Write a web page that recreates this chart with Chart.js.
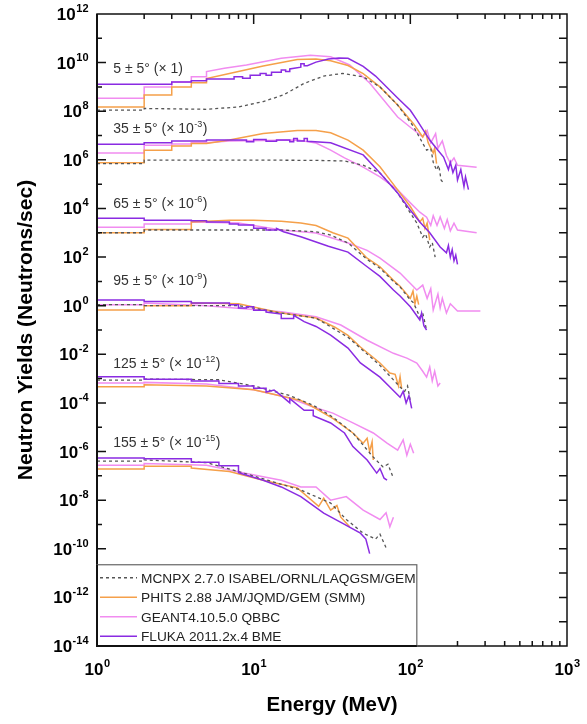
<!DOCTYPE html>
<html>
<head>
  <title>Neutron Yields vs Energy</title>
  <script src="https://cdn.jsdelivr.net/npm/chart.js"></script>
  <style>
    body { margin: 0; background: #fff; }
    #box { width: 587px; height: 724px; }
  </style>
</head>
<body>
  <div id="box"><canvas id="yieldChart" width="587" height="724"></canvas></div>

  <script>
    // ---- data (values as plotted, already multiplied by the angle factor) ----
    const codeNames = [
      'MCNPX 2.7.0 ISABEL/ORNL/LAQGSM/GEM',
      'PHITS 2.88 JAM/JQMD/GEM (SMM)',
      'GEANT4.10.5.0 QBBC',
      'FLUKA 2011.2x.4 BME'
    ];
    const angleNames = ['5 ± 5°', '35 ± 5°', '65 ± 5°', '95 ± 5°', '125 ± 5°', '155 ± 5°'];
    const angleExps = [0, -3, -6, -9, -12, -15];
    const yTickExps = [12, 10, 8, 6, 4, 2, 0, -2, -4, -6, -8, -10, -12, -14];
    const xTickExps = [0, 1, 2, 3];

    // 5 deg (x 1)
    const mcnpx5 = [[1,1.1e8],[2,1.1e8],[2,1.3e8],[5,1.2e8],[8,1.5e8],[11.5,2.5e8],[15.5,4.7e8],[21,1.4e9],[28,2.8e9],[37,3.6e9],[50,2.6e9],[64,1e9],[83,1.8e8],[105,2.3e7],[127,2.5e6],[135,3e6],[140,8e5],[147,3.8e5],[152,6e5],[157,1.5e5],[163,1.1e5]];
    const phits5 = [[1,1.5e8],[2,1.5e8],[2,4.7e8],[3,4.7e8],[3,1.0e9],[4,1.0e9],[4,1.5e9],[5,1.5e9],[5,2.2e9],[7,3.6e9],[11.5,7.2e9],[19,1.35e10],[25,1.4e10],[31,1.2e10],[40,7.6e9],[50,3.5e9],[64,1e9],[83,1.8e8],[105,3e7],[120,8.7e6],[125,1.5e7],[130,5e6],[140,1.9e6],[143,3e6],[147,7e5]];
    const geant5 = [[1,3.4e8],[2,3.4e8],[2,1.0e9],[3,1.0e9],[3,1.6e9],[4,1.6e9],[4,2.6e9],[5,2.6e9],[5,4.3e9],[6.5,5.9e9],[9,8e9],[15,1.5e10],[23,2.0e10],[31,1.75e10],[41,8e9],[55,1.45e9],[83,5.8e7],[100,2.2e7],[120,8.7e6],[128,1.6e7],[135,5e6],[145,1.2e7],[150,3e6],[160,6e6],[170,1.5e6],[180,7.4e5],[190,1.2e6],[200,6e5],[265,5e5]];
    const fluka5 = [[1,1.3e9],[3,1.3e9],[3,1.6e9],[4,1.6e9],[4,1.8e9],[5,1.8e9],[5,2.1e9],[7.5,2.1e9],[7.5,2.6e9],[8.5,2.6e9],[8.5,2.3e9],[9.5,2.3e9],[9.5,3.0e9],[11,3.0e9],[11,3.6e9],[12,3.6e9],[12,3.0e9],[13,3.0e9],[13,4.0e9],[15,4.0e9],[15,5.0e9],[16,5.0e9],[16,4.3e9],[17,4.3e9],[17,5.5e9],[20,6.5e9],[20,9e9],[21,9e9],[21,7.5e9],[22,7.5e9],[25,1.05e10],[30,1.4e10],[35,1.55e10],[40,1.5e10],[50,7e9],[60,2.8e9],[83,3.5e8],[100,1.1e8],[110,4.4e7],[133,6.5e6],[150,2.5e6],[163,1.3e6],[175,4e5],[180,8e5],[187,3e5],[195,6e5],[200,1.5e5],[210,4e5],[220,8e4],[225,2e5],[235,6e4]];

    // 35 deg (x 1e-3)
    const mcnpx35 = [[1,7e5],[2,7e5],[2,9.8e5],[10,9.8e5],[25,9.5e5],[38,9e5],[50,6e5],[64,2.9e5],[83,4.3e4],[100,6.5e3],[110,2.5e3],[120,6.6e2],[125,9e2],[133,2.6e2],[138,4e2],[144,1e2]];
    const phits35 = [[1,7.6e5],[2,7.6e5],[2,2.5e6],[3,2.5e6],[3,3.7e6],[4,3.7e6],[4,4.7e6],[5,4.7e6],[7,6.5e6],[11.5,1.2e7],[19,1.6e7],[25,1.6e7],[31,1.3e7],[40,6.5e6],[50,2.5e6],[64,5.2e5],[83,5.8e4],[100,1.2e4],[115,2.8e3],[120,4e3],[124,1.5e3],[128,2.5e3],[133,5e2]];
    const geant35 = [[1,1.9e6],[2,1.9e6],[2,4e6],[3,4e6],[3,4.5e6],[4,4.5e6],[4,5e6],[5,5e6],[7,6e6],[19,6.5e6],[25,4.9e6],[31,2.5e6],[38,1.2e6],[50,5e5],[64,2e5],[83,5.8e4],[100,1.7e4],[115,7e3],[127,4.4e3],[135,2e3],[140,5e3],[148,2e3],[155,4.5e3],[165,1.5e3],[172,3.5e3],[180,1.2e3],[190,2.5e3],[200,1.3e3],[265,1e3]];
    const fluka35 = [[1,4.4e6],[2,4.4e6],[2,5e6],[3,5e6],[3,5.9e6],[5,5.9e6],[5,6.5e6],[9,6.5e6],[9,5.5e6],[10,5.5e6],[10,6.8e6],[12,6.8e6],[12,5.8e6],[14,5.8e6],[14,6.5e6],[17,6.5e6],[17,5.5e6],[18,5.5e6],[18,7.5e6],[19,7.5e6],[19,6e6],[21,6e6],[21,7.5e6],[22,7.5e6],[22,5.8e6],[31,5e6],[50,1.6e6],[64,2.9e5],[83,4.3e4],[100,8.5e3],[115,2.8e3],[133,1e3],[155,2.6e2],[170,1.5e2],[175,3e2],[180,1e2],[185,2e2],[190,7e1],[195,1.2e2],[200,5e1]];

    // 65 deg (x 1e-6)
    const mcnpx65 = [[1,1e3],[2,1e3],[2,1.3e3],[15,1.3e3],[25,1.1e3],[31,8e2],[40,3.8e2],[53,80],[64,35],[78,10],[86,5.9],[100,1.7],[105,1.3],[115,0.34],[120,0.5],[127,0.1]];
    const phits65 = [[1,1e3],[2,1e3],[2,1.35e3],[4,1.35e3],[4,2.8e3],[7,3.3e3],[10,3.3e3],[15,3e3],[20,2.5e3],[25,2e3],[32,1e3],[40,6e2],[53,90],[64,40],[78,11],[86,6.3],[100,2],[104,4],[107,1.2],[110,2.5],[113,1.1]];
    const geant65 = [[1,1.7e3],[2,1.7e3],[2,2.3e3],[4,2.3e3],[4,2.75e3],[8,2.5e3],[15,1.3e3],[25,9.8e2],[40,3.8e2],[53,1.9e2],[64,90],[86,22],[110,4.4],[120,7],[128,2],[135,5],[140,0.66],[150,3],[155,0.8],[160,2],[170,0.5],[180,1.2],[200,0.6],[280,0.6]];
    const fluka65 = [[1,4e3],[2,4e3],[2,3.3e3],[4,3.3e3],[4,3.1e3],[5,3.1e3],[5,2.75e3],[7,2.75e3],[7,2.3e3],[8,2.3e3],[8,2.1e3],[10,2.1e3],[10,1.55e3],[12,1.55e3],[12,1.3e3],[14,1.3e3],[14,1.5e3],[15.5,1.1e3],[20,6.9e2],[30,2.8e2],[40,1.6e2],[53,40],[64,16],[78,4.4],[86,2.5],[100,0.9],[115,0.26],[118,0.5],[122,0.15],[127,0.1]];

    // 95 deg (x 1e-9)
    const mcnpx95 = [[1,1.1],[2,1.1],[2,1.0],[8,1.0],[15,0.5],[25,0.31],[40,0.05],[48,0.018],[64,3.5e-3],[86,4.5e-4],[92,3e-4],[96,5e-4],[100,1.2e-4]];
    const phits95 = [[1,0.66],[2,0.66],[2,1.0],[4,1.0],[4,1.3],[8,1.2],[15,0.5],[25,0.31],[33,0.13],[40,0.06],[48,0.02],[64,4.4e-3],[74,1.7e-3],[80,1.5e-3],[84,5e-4],[86,1.2e-3],[88,4e-4]];
    const geant95 = [[1,1.1],[2,1.1],[2,1.3],[5,1.0],[15,0.56],[25,0.35],[36,0.16],[53,0.038],[78,0.011],[95,7e-3],[110,4.4e-3],[120,2e-3],[127,1.15e-3],[133,3e-3],[138,8e-4],[143,2e-3],[150,5e-4],[155,6.6e-4]];
    const fluka95 = [[1,1.7],[2,1.7],[2,1.5],[4,1.5],[4,1.3],[7,1.3],[7,1.1],[8,1.1],[8,0.8],[9,0.8],[9,0.9],[10,0.9],[10,0.65],[12,0.65],[12,0.55],[15,0.45],[15,0.3],[18,0.3],[18,0.4],[21,0.22],[25,0.14],[31,0.062],[40,0.018],[48,4.4e-3],[64,1.15e-3],[74,4.5e-4],[86,1.7e-4],[90,3e-4],[94,1e-4],[98,2e-4],[102,6e-5]];

    // 125 deg (x 1e-12)
    const mcnpx125 = [[1,8.7e-4],[2,8.7e-4],[2,9.5e-4],[6,9e-4],[10,5e-4],[17,2e-4],[24,8e-5],[32,2.6e-5],[43,5.8e-6],[58,5.9e-7],[67,2.3e-7],[72,3e-7],[78,8e-8]];
    const phits125 = [[1,4.6e-4],[2,4.6e-4],[2,5.6e-4],[5,5e-4],[10,3.5e-4],[20,1.26e-4],[24,6.8e-5],[32,2.3e-5],[43,5.8e-6],[50,2.2e-6],[53,3.5e-6],[55,1e-6],[57,2.5e-6],[58,4.5e-7]];
    const geant125 = [[1,6.6e-4],[2,6.6e-4],[2,7e-4],[5,6e-4],[10,3.5e-4],[17,1.6e-4],[24,6.8e-5],[32,3.8e-5],[43,1.5e-5],[58,5.8e-6],[71,2.2e-6],[83,1.15e-6],[90,3e-6],[95,7e-7],[100,2e-6],[105,8.5e-7]];
    const fluka125 = [[1,1.2e-3],[2,1.2e-3],[2,9.5e-4],[4,9.5e-4],[4,8e-4],[6,8e-4],[6,6.3e-4],[8,6.3e-4],[8,5e-4],[10,5e-4],[10,4e-4],[12,4e-4],[12,2.8e-4],[13.5,3.4e-4],[15,2e-4],[17,1e-4],[17,1.5e-4],[21,5e-5],[24,5e-5],[24,3e-5],[31,1.5e-5],[38,5.8e-6],[43,1.6e-6],[53,4.5e-7],[61,1.3e-7],[64,2e-7],[68,8e-8],[71,6.6e-8]];

    // 155 deg (x 1e-15)
    const mcnpx155 = [[1,4e-7],[2,4e-7],[2,4.5e-7],[5,3.5e-7],[8,1.5e-7],[20,2.6e-8],[31,7.6e-9],[39,1.6e-9],[50,4.4e-10],[60,2.5e-10],[64,4e-10],[71,9e-11]];
    const phits155 = [[1,1.9e-7],[2,1.9e-7],[2,2.5e-7],[4,2.5e-7],[4,2.1e-7],[7,1.5e-7],[11.5,6.6e-8],[19,3.2e-8],[26,5.6e-9],[28,1.2e-8],[31,3.9e-9],[34,6e-9],[36,2e-9],[41,8e-10]];
    const geant155 = [[1,2.7e-7],[2,2.7e-7],[2,3.2e-7],[5,2.7e-7],[9,1.26e-7],[15,6.6e-8],[20,3.5e-8],[25,3.5e-8],[31,1e-8],[39,1.4e-8],[50,3.9e-9],[64,1.6e-9],[70,3e-9],[74,8e-10],[78,2e-9]];
    const fluka155 = [[1,5.4e-7],[2,5.4e-7],[2,5e-7],[4,5e-7],[4,3.6e-7],[6,3.6e-7],[6,2.6e-7],[8,2.6e-7],[8,1.35e-7],[11.5,6.6e-8],[15,3.5e-8],[20,1.4e-8],[28,2.9e-9],[37,1.1e-9],[48,4.4e-10],[52,2.5e-10],[55,6.3e-11]];

    const seriesByCode = [
      [mcnpx5, mcnpx35, mcnpx65, mcnpx95, mcnpx125, mcnpx155],
      [phits5, phits35, phits65, phits95, phits125, phits155],
      [geant5, geant35, geant65, geant95, geant125, geant155],
      [fluka5, fluka35, fluka65, fluka95, fluka125, fluka155]
    ];

    // ---- styles ----
    const codeColors = ['#555555', '#f5a04a', '#f18cf0', '#8a2be2'];
    const codeDash = [[3, 3], [], [], []];
    const codeOrder = [2, 3, 4, 1];
    const FONT = '"Liberation Sans", Arial, sans-serif';

    const datasets = [];
    seriesByCode.forEach((group, c) => {
      group.forEach((pts, a) => {
        datasets.push({
          label: codeNames[c] + ' ' + angleNames[a],
          data: pts.map(p => ({ x: p[0], y: p[1] })),
          borderColor: codeColors[c],
          borderDash: codeDash[c],
          borderWidth: c === 0 ? 1.3 : 1.5,
          pointRadius: 0,
          tension: 0,
          fill: false,
          order: codeOrder[c]
        });
      });
    });

    function drawPow(ctx, exp, x, y, align, baseSize, supSize, rise, weight) {
      const base = '10';
      const sup = String(exp);
      ctx.font = `${weight} ${baseSize}px ${FONT}`;
      const wb = ctx.measureText(base).width;
      ctx.font = `${weight} ${supSize}px ${FONT}`;
      const ws = ctx.measureText(sup).width;
      let left = x;
      if (align === 'right') left = x - wb - ws;
      if (align === 'center') left = x - (wb + ws) / 2;
      ctx.textAlign = 'left';
      ctx.textBaseline = 'alphabetic';
      ctx.font = `${weight} ${baseSize}px ${FONT}`;
      ctx.fillText(base, left, y);
      ctx.font = `${weight} ${supSize}px ${FONT}`;
      ctx.fillText(sup, left + wb + 0.5, y - rise);
      return left + wb + 0.5 + ws;
    }

    const decor = {
      id: 'decor',
      afterDraw(chart) {
        const { ctx, chartArea: a, scales: { x, y } } = chart;
        ctx.save();
        ctx.strokeStyle = '#111';
        ctx.fillStyle = '#111';

        // frame
        ctx.lineWidth = 1.5;
        ctx.strokeRect(a.left, a.top, a.right - a.left, a.bottom - a.top);
        ctx.lineWidth = 2;
        ctx.beginPath();
        ctx.moveTo(a.left, a.top); ctx.lineTo(a.left, a.bottom);
        ctx.stroke();

        // y ticks, inward on both sides
        ctx.lineWidth = 1.5;
        for (let e = -13; e <= 11; e++) {
          const py = y.getPixelForValue(Math.pow(10, e));
          const len = e % 2 === 0 ? 9 : 5;
          ctx.beginPath();
          ctx.moveTo(a.left, py); ctx.lineTo(a.left + len, py);
          ctx.moveTo(a.right, py); ctx.lineTo(a.right - 8, py);
          ctx.stroke();
        }
        // x ticks, inward top and bottom
        for (let d = 1; d <= 100; d *= 10) {
          for (let m = 1; m <= 9; m++) {
            const v = m * d;
            if (v === 1) continue;
            const px = x.getPixelForValue(v);
            const len = m === 1 ? 10 : 5;
            ctx.beginPath();
            ctx.moveTo(px, a.top); ctx.lineTo(px, a.top + len);
            ctx.moveTo(px, a.bottom); ctx.lineTo(px, a.bottom - len);
            ctx.stroke();
          }
        }

        // tick labels
        ctx.fillStyle = '#000';
        yTickExps.forEach(e => {
          const py = y.getPixelForValue(Math.pow(10, e));
          drawPow(ctx, e, a.left - 9, py + 6, 'right', 17, 11, 8, 'bold');
        });
        xTickExps.forEach(e => {
          const px = x.getPixelForValue(Math.pow(10, e));
          drawPow(ctx, e, px, a.bottom + 29, 'center', 17, 11, 8, 'bold');
        });

        // axis titles
        ctx.font = `bold 20.5px ${FONT}`;
        ctx.textAlign = 'center';
        ctx.textBaseline = 'alphabetic';
        ctx.fillText('Energy (MeV)', (a.left + a.right) / 2, 711);
        ctx.save();
        ctx.translate(32, (a.top + a.bottom) / 2);
        ctx.rotate(-Math.PI / 2);
        ctx.font = `bold 21px ${FONT}`;
        ctx.fillText('Neutron Yields (Neutrons/sec)', 0, 0);
        ctx.restore();

        // angle annotations
        const labelY = [6e9, 2.05e7, 1.66e4, 11.2, 4.4e-3, 2.45e-6];
        ctx.fillStyle = '#333';
        angleNames.forEach((name, i) => {
          const px = x.getPixelForValue(1.27);
          const py = y.getPixelForValue(labelY[i]) + 5;
          ctx.font = `14px ${FONT}`;
          ctx.textAlign = 'left';
          const head = name + ' (× ';
          ctx.fillText(head, px, py);
          let cx = px + ctx.measureText(head).width;
          if (angleExps[i] === 0) {
            ctx.fillText('1)', cx, py);
          } else {
            cx = drawPow(ctx, angleExps[i], cx, py, 'left', 14, 9, 6, 'normal');
            ctx.font = `14px ${FONT}`;
            ctx.fillText(')', cx + 0.5, py);
          }
        });

        // legend box
        const lx0 = a.left, lx1 = x.getPixelForValue(110), ly0 = y.getPixelForValue(2.2e-11);
        ctx.fillStyle = '#fff';
        ctx.fillRect(lx0, ly0, lx1 - lx0, a.bottom - ly0);
        ctx.strokeStyle = '#666';
        ctx.lineWidth = 1.2;
        ctx.strokeRect(lx0, ly0, lx1 - lx0, a.bottom - ly0);
        ctx.strokeStyle = '#111';
        ctx.lineWidth = 2;
        ctx.beginPath();
        ctx.moveTo(a.left, ly0); ctx.lineTo(a.left, a.bottom); ctx.lineTo(lx1, a.bottom);
        ctx.stroke();
        const rowH = 19.5;
        codeNames.forEach((name, i) => {
          const ry = ly0 + 13 + i * rowH;
          ctx.strokeStyle = codeColors[i];
          ctx.lineWidth = i === 0 ? 1.3 : 1.5;
          ctx.setLineDash(codeDash[i]);
          ctx.beginPath();
          ctx.moveTo(lx0 + 3, ry); ctx.lineTo(lx0 + 40, ry);
          ctx.stroke();
          ctx.setLineDash([]);
          ctx.fillStyle = '#222';
          ctx.font = `13.7px ${FONT}`;
          ctx.textAlign = 'left';
          ctx.textBaseline = 'middle';
          ctx.fillText(name, lx0 + 44, ry + 1);
        });
        ctx.restore();
      }
    };

    new Chart(document.getElementById('yieldChart'), {
      type: 'line',
      data: { datasets },
      options: {
        responsive: false,
        animation: false,
        devicePixelRatio: 1,
        layout: { padding: { top: 14, right: 20, left: 0, bottom: 0 } },
        plugins: { legend: { display: false }, tooltip: { enabled: false } },
        scales: {
          x: {
            type: 'logarithmic', min: 1, max: 1000,
            ticks: { display: false },
            grid: { display: false },
            border: { display: false },
            afterFit: s => { s.height = 78; }
          },
          y: {
            type: 'logarithmic', min: 1e-14, max: 1e12,
            ticks: { display: false },
            grid: { display: false },
            border: { display: false },
            afterFit: s => { s.width = 97; }
          }
        }
      },
      plugins: [decor]
    });
  </script>
</body>
</html>
